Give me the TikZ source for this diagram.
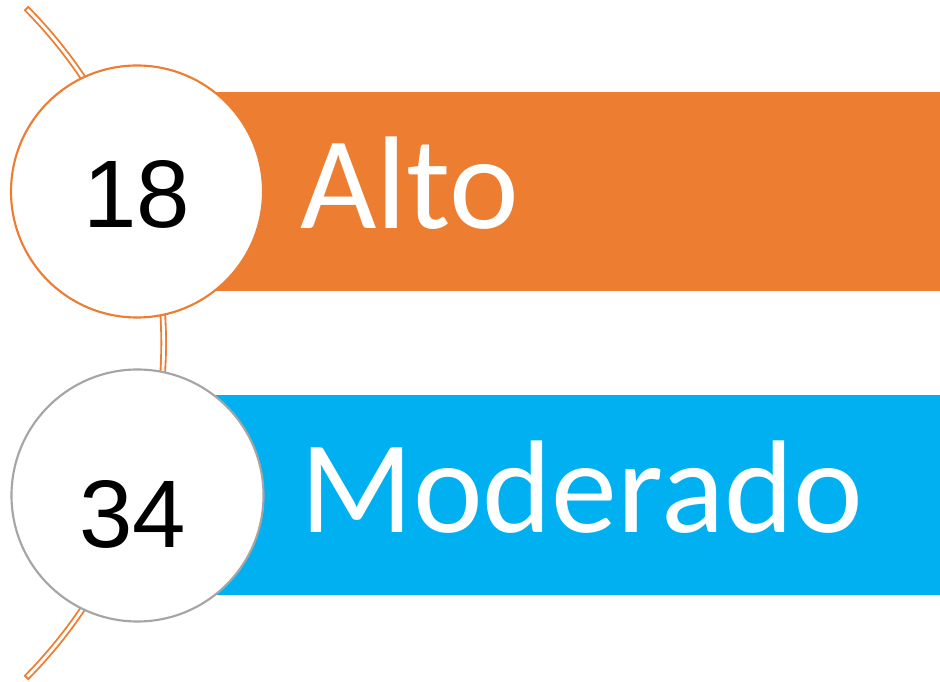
\documentclass[tikz,border=0pt]{standalone}
\usepackage{fontspec}
\newfontfamily\numfont{Liberation Sans}
\newfontfamily\labfont{Carlito}
\definecolor{cOrange}{HTML}{ED7D31}
\definecolor{cBlue}{HTML}{00B0F0}
\definecolor{cGray}{HTML}{A5A5A5}
\begin{document}
\begin{tikzpicture}[x=0.75pt,y=0.75pt,
  bar/.style={draw=none},
  bubble/.style={circle,fill=white,line width=1.6pt,minimum size=252*0.75pt,inner sep=0pt},
  numtext/.style={anchor=base,inner sep=0pt,font=\numfont\fontsize{72}{78}\selectfont,text=black},
  labtext/.style={anchor=base west,inner sep=0pt,font=\labfont\fontsize{99}{110}\selectfont,text=white}]
\useasboundingbox (0,0) rectangle (940,682);
% arc (double line with closed ends)
\coordinate (arcC) at (-312.7,339);
\draw[cOrange,line width=4.9pt,line cap=butt] (arcC) ++(-44.7:476.4) arc[start angle=-44.7,end angle=44.7,radius=476.4];
\draw[white,line width=2.1pt,line cap=butt] (arcC) ++(-44.45:476.4) arc[start angle=-44.45,end angle=44.45,radius=476.4];
% bars
\fill[cOrange] (137,391) rectangle (940,590) coordinate (barA);
\fill[cBlue] (137,87) rectangle (940,287) coordinate (barB);
% circles
\node[bubble,draw=cOrange] (c1) at (137,490.5) {};
\node[bubble,draw=cGray] (c2) at (137.5,186.5) {};
% texts
\node[numtext] (n1) at (137,454) {18};
\node[numtext] (n2) at (132.5,134) {34};
\node[labtext] (l1) at (300,453) {Alto};
\node[labtext] (l2) at (300,149) {Moderado};
\end{tikzpicture}
\end{document}
